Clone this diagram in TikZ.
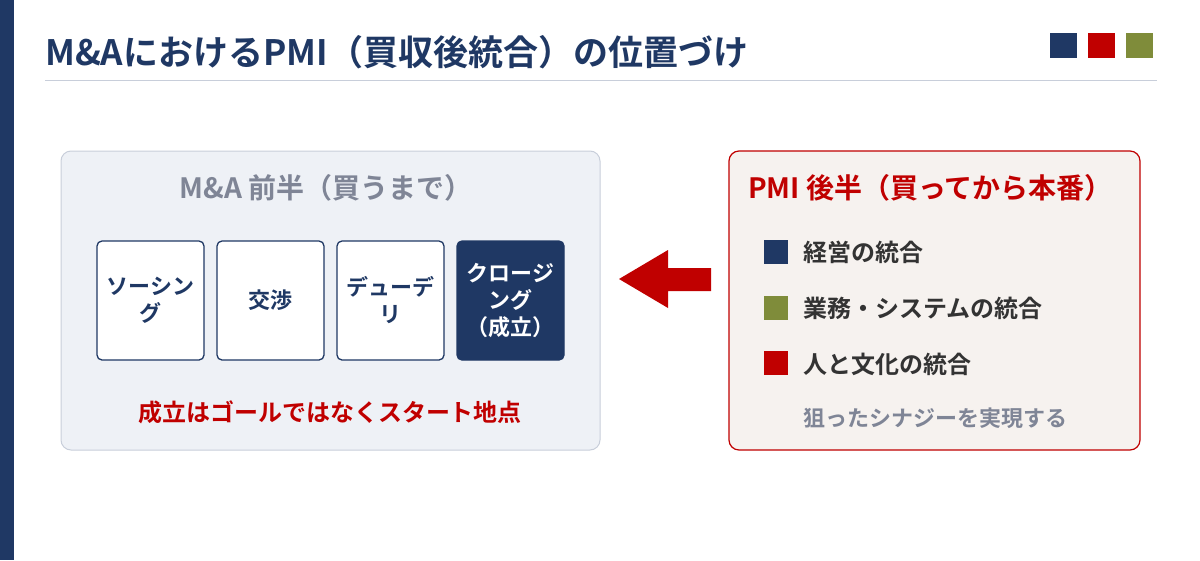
\documentclass[tikz,border=0pt]{standalone}
\usepackage{fontspec}
\setmainfont{Noto Sans CJK JP}[BoldFont={* Bold}]
\definecolor{navy}{HTML}{1F3864}
\definecolor{dred}{HTML}{C00000}
\definecolor{olive}{HTML}{7F8C3A}
\definecolor{gtxt}{HTML}{7F8596}
\definecolor{lpan}{HTML}{EEF1F6}
\definecolor{lbor}{HTML}{C8CEDA}
\definecolor{rpan}{HTML}{F6F2EF}
\tikzset{
 stepbox/.style={draw=navy,line width=1.3pt,fill=white,rounded corners=5pt,minimum width=107pt,minimum height=119pt,align=center,font=\fontsize{22}{27}\selectfont\bfseries,text=navy},
 item/.style={anchor=west,font=\fontsize{24}{26}\selectfont\bfseries,text=black!80},
 sq/.style={minimum size=24pt,inner sep=0pt}
}
\begin{document}
\begin{tikzpicture}[x=1pt,y=-1pt]
\useasboundingbox (0,0) rectangle (1200,560);
\fill[navy] (0,0) rectangle (14,560);
\node[anchor=west,inner sep=0pt,font=\fontsize{35}{38}\selectfont\bfseries,text=navy] (title) at (45,52) {M\&AにおけるPMI（買収後統合）の位置づけ};
\draw[lbor,line width=1pt] (45,80) -- (1157,80);
\fill[navy] (1050,33) rectangle (1077,58);
\fill[dred] (1088,33) rectangle (1115,58);
\fill[olive] (1126,33) rectangle (1153,58);
% left panel
\draw[lbor,fill=lpan,line width=1pt,rounded corners=10pt] (61,151) rectangle (600,450);
\node[font=\fontsize{28}{30}\selectfont\bfseries,text=gtxt] (lt) at (326,188) {M\&A 前半（買うまで）};
\node[stepbox] (s1) at (150.5,300.5) {ソーシン\\グ};
\node[stepbox] (s2) at (270.5,300.5) {交渉};
\node[stepbox] (s3) at (390.5,300.5) {デューデ\\リ};
\node[stepbox,fill=navy,text=white] (s4) at (510.5,300.5) {クロージ\\ング\\（成立）};
\node[font=\fontsize{24}{26}\selectfont\bfseries,text=dred] (goal) at (330,412) {成立はゴールではなくスタート地点};
% arrow
\fill[dred] (619,279) -- (668,250) -- (668,268) -- (711,268) -- (711,291) -- (668,291) -- (668,308) -- cycle;
% right panel
\draw[dred,fill=rpan,line width=1.2pt,rounded corners=10pt] (729,151) rectangle (1140,450);
\node[anchor=west,inner sep=0pt,font=\fontsize{28}{30}\selectfont\bfseries,text=dred] (rt) at (748,188) {PMI 後半（買ってから本番）};
\node[sq,fill=navy] (q1) at (776,252) {};
\node[sq,fill=olive] (q2) at (776,308) {};
\node[sq,fill=dred] (q3) at (776,363) {};
\node[item,inner sep=0pt] (i1) at (803,252) {経営の統合};
\node[item,inner sep=0pt] (i2) at (803,308) {業務・システムの統合};
\node[item,inner sep=0pt] (i3) at (803,364) {人と文化の統合};
\node[item,inner sep=0pt,text=gtxt,font=\fontsize{22}{24}\selectfont\bfseries] (i4) at (803,418) {狙ったシナジーを実現する};
\end{tikzpicture}
\end{document}
